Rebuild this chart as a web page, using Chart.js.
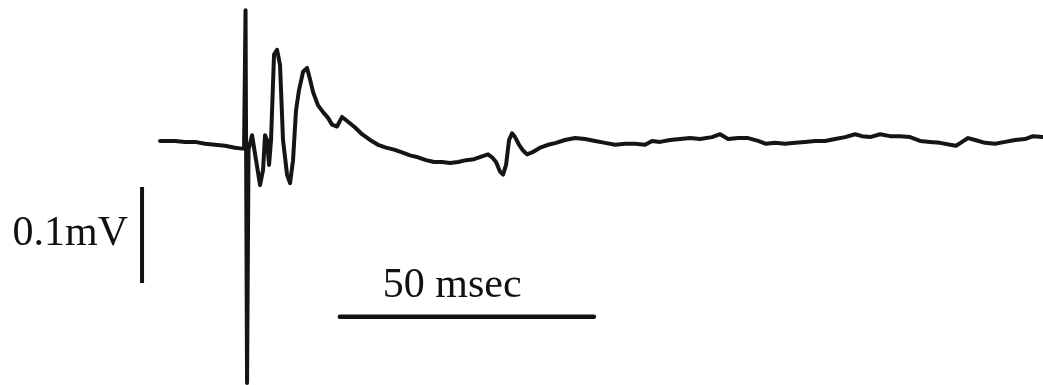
<!DOCTYPE html>
<html>
<head>
<meta charset="utf-8">
<script src="https://cdn.jsdelivr.net/npm/chart.js@4/dist/chart.umd.min.js"></script>
<style>
  html, body { margin: 0; padding: 0; background: #ffffff; }
  #wrap { width: 1043px; height: 385px; position: relative; }
</style>
</head>
<body>
<div id="wrap"><canvas id="c"></canvas></div>
<script>
// Recorded trace: time (ms) and potential (mV)
const timeMs = [0, 2.95, 4.92, 6.89, 8.86, 10.83, 12.80, 14.76, 16.14, 16.54, 16.83, 17.13, 17.42,
  18.11, 18.90, 19.69, 20.28, 20.67, 21.06, 21.46, 21.85, 22.44, 23.03, 23.62, 24.21, 25.00, 25.59,
  26.18, 26.77, 27.36, 28.15, 28.94, 29.53, 30.12, 31.10, 32.09, 33.07, 33.86, 34.84, 35.83, 37.01,
  38.39, 39.76, 41.34, 42.91, 44.49, 46.06, 47.64, 49.21, 50.79, 52.36, 53.94, 55.51, 57.09, 58.66,
  60.24, 61.81, 63.39, 64.57, 65.35, 66.14, 66.93, 67.52, 68.11, 68.70, 69.29, 69.88, 70.67, 71.46,
  72.24, 73.23, 74.80, 76.38, 77.95, 79.72, 81.69, 83.66, 85.63, 87.60, 89.57, 91.54, 93.50, 95.47,
  96.85, 98.43, 100.39, 102.36, 104.33, 106.30, 108.66, 110.24, 111.81, 113.78, 115.75, 117.72,
  119.29, 121.06, 123.03, 125.00, 126.97, 128.94, 130.91, 132.87, 134.84, 136.81, 138.19, 139.76,
  141.73, 143.70, 145.67, 147.64, 149.61, 151.57, 153.54, 155.51, 156.69, 157.87, 159.06, 160.43,
  162.40, 164.37, 166.34, 168.31, 170.28, 171.85, 173.82];
const voltageMv = [-0.001, -0.001, -0.002, -0.002, -0.004, -0.005, -0.006, -0.008, -0.009, -0.009, 0.135, -0.253, -0.010,
  0.005, -0.021, -0.047, -0.031, 0.005, 0.000, -0.026, 0.000, 0.089, 0.094, 0.078, 0.000, -0.036, -0.045,
  -0.021, 0.031, 0.052, 0.071, 0.075, 0.063, 0.050, 0.036, 0.029, 0.023, 0.016, 0.014, 0.024, 0.019,
  0.013, 0.006, 0.000, -0.005, -0.008, -0.010, -0.013, -0.016, -0.018, -0.021, -0.023, -0.023, -0.024, -0.023,
  -0.021, -0.020, -0.017, -0.015, -0.018, -0.023, -0.033, -0.036, -0.026, 0.000, 0.007, 0.003, -0.005, -0.011,
  -0.015, -0.013, -0.008, -0.005, -0.003, 0.000, 0.002, 0.001, -0.001, -0.003, -0.005, -0.004, -0.004, -0.005,
  -0.001, -0.002, 0.000, 0.001, 0.002, 0.001, 0.003, 0.006, 0.001, 0.002, 0.002, -0.001,
  -0.004, -0.003, -0.004, -0.003, -0.002, -0.001, -0.001, 0.001, 0.003, 0.006, 0.004, 0.003,
  0.006, 0.004, 0.004, 0.003, -0.001, -0.002, -0.003, -0.005, -0.006, -0.002, 0.002, 0.000,
  -0.003, -0.004, -0.002, 0.000, 0.001, 0.004, 0.003];

// Scale bars
const voltBarTime = [-3.54, -3.54];
const voltBarMv = [-0.049, -0.149];      // 0.1 mV
const timeBarTime = [35.4, 85.4];        // 50 ms
const timeBarMv = [-0.184, -0.184];

// Labels
const labelTexts = ['0.1mV', '50 msec'];
const labelTime = [-6.3, 57.5];
const labelMv = [-0.109, -0.164];
const labelAlign = ['right', 'center'];

// Axis extents
const xRange = [-31.5, 173.8];
const yRange = [-0.2552, 0.1458];

const toXY = (xs, ys) => xs.map((x, i) => ({ x: x, y: ys[i] }));

const labelPlugin = {
  id: 'labels',
  afterDatasetsDraw(chart) {
    const ctx = chart.ctx;
    const xs = chart.scales.x, ys = chart.scales.y;
    ctx.save();
    ctx.fillStyle = '#111111';
    ctx.font = '42px "Liberation Serif", "Times New Roman", serif';
    ctx.textBaseline = 'alphabetic';
    labelTexts.forEach((t, i) => {
      ctx.textAlign = labelAlign[i];
      ctx.fillText(t, xs.getPixelForValue(labelTime[i]), ys.getPixelForValue(labelMv[i]));
    });
    ctx.restore();
  }
};

new Chart(document.getElementById('c'), {
  type: 'line',
  data: {
    datasets: [
      { data: toXY(timeMs, voltageMv), borderColor: '#151515', borderWidth: 4,
        pointRadius: 0, tension: 0, borderJoinStyle: 'round', borderCapStyle: 'round' },
      { data: toXY(voltBarTime, voltBarMv), borderColor: '#111111', borderWidth: 4,
        pointRadius: 0, tension: 0, borderCapStyle: 'butt' },
      { data: toXY(timeBarTime, timeBarMv), borderColor: '#111111', borderWidth: 4.5,
        pointRadius: 0, tension: 0, borderCapStyle: 'round' }
    ]
  },
  options: {
    responsive: true,
    maintainAspectRatio: false,
    animation: false,
    devicePixelRatio: 1,
    layout: { padding: 0 },
    plugins: { legend: { display: false }, tooltip: { enabled: false } },
    scales: {
      x: { type: 'linear', min: xRange[0], max: xRange[1], display: false },
      y: { type: 'linear', min: yRange[0], max: yRange[1], display: false }
    }
  },
  plugins: [labelPlugin]
});
</script>
</body>
</html>
